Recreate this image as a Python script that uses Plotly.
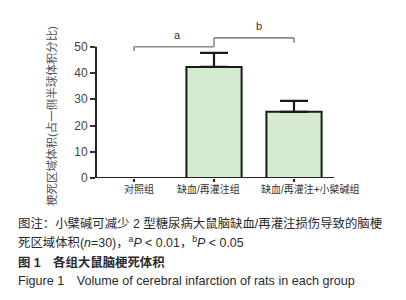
import plotly.graph_objects as go

categories = ["对照组", "缺血/再灌注组", "缺血/再灌注+小檗碱组"]
values = [0, 42.3, 25.2]
errors = [0, 5.4, 4.2]
comparisons = [(0, 1, "a"), (1, 2, "b")]
y_ticks = [0, 10, 20, 30, 40, 50]
y_title = "梗死区域体积(占一侧半球体积分比)"
caption_lines = [
    "图注：小檗碱可减少 2 型糖尿病大鼠脑缺血/再灌注损伤导致的脑梗",
    "死区域体积(<i>n</i>=30)，<sup>a</sup><i>P</i> &lt; 0.01，<sup>b</sup><i>P</i> &lt; 0.05",
    "<b>图 1　各组大鼠脑梗死体积</b>",
    "Figure 1　Volume of cerebral infarction of rats in each group",
]

W, H = 406, 300
ML, MR, MT, MB = 96, 72, 31, 122
PW = W - ML - MR
PH = H - MT - MB
FONT = "Liberation Sans, Arial, Noto Sans CJK SC, sans-serif"

def px_x(px):
    return (px - ML) / PW

def px_y(px):
    return (H - MB - px) / PH

x_idx = list(range(len(categories)))

fig = go.Figure()
fig.add_trace(go.Bar(
    x=x_idx, y=values, width=0.69,
    marker=dict(color="#d4ebcf", line=dict(color="#1a1a1a", width=2)),
    error_y=dict(type="data", array=errors, arrayminus=[0] * len(errors), symmetric=False,
                 color="#1a1a1a", thickness=2.2, width=14),
    showlegend=False, hoverinfo="skip",
))

shapes = []
shapes.append(dict(type="line", xref="paper", yref="y", x0=0, x1=0, y0=0, y1=y_ticks[-1],
                   line=dict(color="#222", width=2)))
shapes.append(dict(type="line", xref="paper", yref="y", x0=-0.013, x1=1, y0=0, y1=0,
                   line=dict(color="#222", width=2)))
lvl = [50, 53.4]
gray = dict(color="#8a8a8a", width=1.6)
(a0, a1, la), (b0, b1, lb) = comparisons
shapes += [
    dict(type="line", x0=a0, x1=a1, y0=lvl[0], y1=lvl[0], line=gray),
    dict(type="line", x0=a0, x1=a0, y0=lvl[0], y1=lvl[0] - 1.6, line=gray),
    dict(type="line", x0=a1, x1=a1, y0=lvl[0], y1=lvl[1], line=gray),
    dict(type="line", x0=b0, x1=b1, y0=lvl[1], y1=lvl[1], line=gray),
    dict(type="line", x0=b1, x1=b1, y0=lvl[1], y1=lvl[1] - 1.9, line=gray),
]

annotations = [
    dict(x=(a0 + a1) / 2 + 0.04, y=lvl[0] + 1.3, text=la, showarrow=False, xref="x", yref="y",
         xanchor="center", yanchor="bottom", font=dict(family=FONT, size=11, color="#333")),
    dict(x=(b0 + b1) / 2 + 0.06, y=lvl[1] + 1.3, text=lb, showarrow=False, xref="x", yref="y",
         xanchor="center", yanchor="bottom", font=dict(family=FONT, size=11, color="#333")),
    dict(x=px_x(51), y=px_y(116), text=y_title, textangle=-90, showarrow=False,
         xref="paper", yref="paper", xanchor="center", yanchor="middle",
         font=dict(family=FONT, size=11.5, color="#555")),
]

label_shift = [5, -6, 16]
for i, (c, s) in enumerate(zip(categories, label_shift)):
    annotations.append(dict(x=i, y=px_y(189), text=c, showarrow=False, xref="x", yref="paper",
                            xanchor="center", yanchor="middle", xshift=s,
                            font=dict(family=FONT, size=10, color="#333")))

cap_y = [223, 242, 262, 281]
cap_size = [12.4, 12.4, 12.4, 12.6]
for t, yy, sz in zip(caption_lines, cap_y, cap_size):
    annotations.append(dict(x=px_x(16), y=px_y(yy), text=t, showarrow=False,
                            xref="paper", yref="paper", xanchor="left", yanchor="middle",
                            font=dict(family=FONT, size=sz, color="#2a2a2a")))

fig.update_layout(
    width=W, height=H,
    margin=dict(l=ML, r=MR, t=MT, b=MB, autoexpand=False),
    paper_bgcolor="white", plot_bgcolor="white",
    shapes=shapes, annotations=annotations,
    xaxis=dict(range=[-0.475, 2.5], tickvals=x_idx, showticklabels=False, automargin=False,
               showline=False, showgrid=False, zeroline=False,
               ticks="outside", ticklen=3, tickwidth=1.5, tickcolor="#222"),
    yaxis=dict(range=[0, 56], tickvals=y_ticks, showline=False, showgrid=False, zeroline=False,
               automargin=False,
               ticks="outside", ticklen=5, tickwidth=1.5, tickcolor="#333",
               tickfont=dict(family=FONT, size=12, color="#444")),
)

fig.write_html("out.html", config={"displayModeBar": False},
               post_script="document.body.style.margin='0';document.body.style.overflow='hidden';")
